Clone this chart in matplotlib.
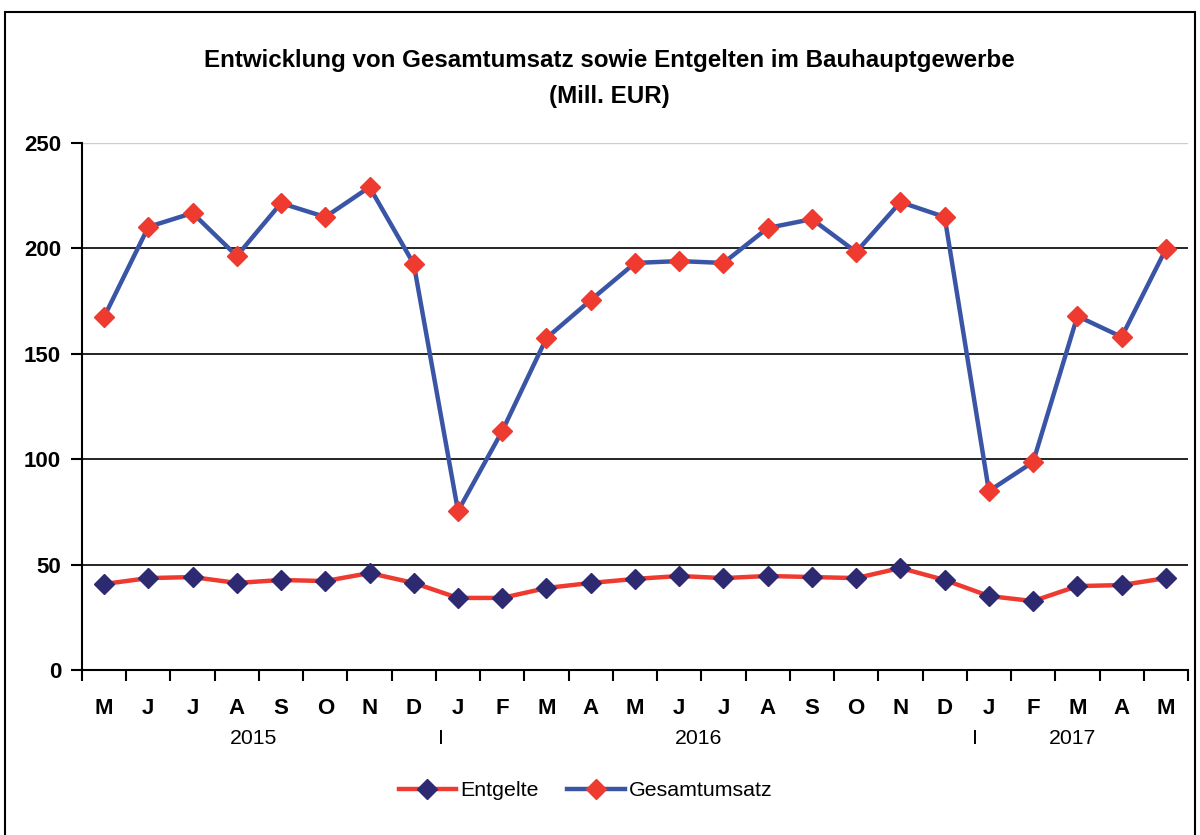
import matplotlib.pyplot as plt
from matplotlib.lines import Line2D
from matplotlib.patches import Rectangle

months = ['M', 'J', 'J', 'A', 'S', 'O', 'N', 'D', 'J', 'F', 'M', 'A', 'M',
          'J', 'J', 'A', 'S', 'O', 'N', 'D', 'J', 'F', 'M', 'A', 'M']
gesamtumsatz = [167.5, 210.2, 216.8, 196.4, 221.5, 214.9, 229.1, 192.6, 75.4,
                113.4, 157.5, 175.5, 193.1, 194.0, 193.1, 209.7, 213.9, 198.3,
                222.0, 214.9, 84.9, 98.7, 167.9, 158.0, 199.7]
entgelte = [40.8, 43.6, 44.1, 41.3, 42.7, 42.2, 46.0, 41.3, 34.2, 34.2, 38.9,
            41.3, 43.2, 44.6, 43.6, 44.6, 44.1, 43.6, 48.4, 42.7, 35.1, 32.7,
            39.8, 40.3, 43.6]
year_labels = [(3.37, '2015'), (7.62, 'I'), (13.44, '2016'), (19.68, 'I'), (21.9, '2017')]

plt.rcParams['font.family'] = ['Liberation Sans', 'DejaVu Sans']

red = '#EE3A2F'
blue = '#3A55A6'
navy = '#2D2A72'

fig = plt.figure(figsize=(12, 8.35), dpi=100)
ax = fig.add_axes([0.0683, 0.1976, 0.9217, 0.6311])

x = list(range(len(months)))
ax.plot(x, entgelte, color=red, lw=3.2, marker='D', ms=10,
        mfc=navy, mec=navy, zorder=3)
ax.plot(x, gesamtumsatz, color=blue, lw=3.2, marker='D', ms=10,
        mfc=red, mec=red, zorder=3)

ax.set_xlim(-0.5, len(months) - 0.5)
ax.set_ylim(0, 250)
ax.set_yticks([0, 50, 100, 150, 200, 250])
for v in [50, 100, 150, 200]:
    ax.axhline(v, color='black', lw=1.2, zorder=1)
ax.axhline(250, color='#cccccc', lw=1, zorder=1)

ax.set_xticks([i - 0.5 for i in range(len(months) + 1)])
ax.set_xticklabels([])
ax.set_xticks(x, minor=True)
ax.set_xticklabels(months, minor=True, fontsize=16, fontweight='bold')
ax.tick_params(axis='x', which='major', length=8, width=1.5, direction='out')
ax.tick_params(axis='x', which='minor', length=0, pad=20)
ax.tick_params(axis='y', length=8, width=1.5, direction='out', labelsize=16, pad=7)
for lab in ax.get_yticklabels():
    lab.set_fontweight('bold')

for s in ['top', 'right']:
    ax.spines[s].set_visible(False)
for s in ['left', 'bottom']:
    ax.spines[s].set_linewidth(1.5)

for pos, txt in year_labels:
    ax.text(pos, -0.13, txt, transform=ax.get_xaxis_transform(),
            ha='center', va='center', fontsize=15.3)

fig.text(0.508, 0.928, 'Entwicklung von Gesamtumsatz sowie Entgelten im Bauhauptgewerbe',
         ha='center', va='center', fontsize=17.4, fontweight='bold')
fig.text(0.508, 0.885, '(Mill. EUR)', ha='center', va='center',
         fontsize=17.4, fontweight='bold')

handles = [
    Line2D([], [], color=red, lw=3.2, marker='D', ms=10, mfc=navy, mec=navy),
    Line2D([], [], color=blue, lw=3.2, marker='D', ms=10, mfc=red, mec=red),
]
fig.legend(handles, ['Entgelte', 'Gesamtumsatz'], loc='center',
           bbox_to_anchor=(0.488, 0.053), ncol=2, frameon=False, fontsize=15.4,
           handlelength=2.7, handletextpad=0.2, columnspacing=1.3)

fig.patches.append(Rectangle((0.004, -0.02), 0.992, 1.006, transform=fig.transFigure,
                             fill=False, edgecolor='black', lw=1.5))

fig.savefig('out.png', dpi=100)
